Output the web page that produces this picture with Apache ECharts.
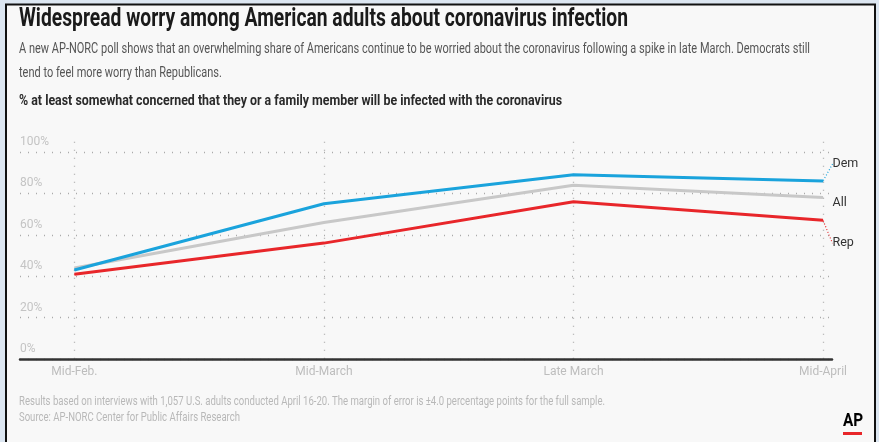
<!DOCTYPE html>
<html><head><meta charset="utf-8">
<script src="https://cdn.jsdelivr.net/npm/echarts@6/dist/echarts.min.js"></script>
<style>html,body{margin:0;padding:0;background:#dce6f1;}#c{width:879px;height:442px;}</style>
</head><body><div id="c"></div>
<script>
const categories = ['Mid-Feb.', 'Mid-March', 'Late March', 'Mid-April'];
const demValues = [43, 75, 89, 86];
const allValues = [44, 66, 84, 78];
const repValues = [41, 56, 76, 67];
const yTicks = [0, 20, 40, 60, 80, 100];
const seriesNames = ['Dem', 'All', 'Rep'];

const titleText = 'Widespread worry among American adults about coronavirus infection';
const subLine1 = 'A new AP-NORC poll shows that an overwhelming share of Americans continue to be worried about the coronavirus following a spike in late March. Democrats still';
const subLine2 = 'tend to feel more worry than Republicans.';
const headText = '% at least somewhat concerned that they or a family member will be infected with the coronavirus';
const noteLine1 = 'Results based on interviews with 1,057 U.S. adults conducted April 16-20. The margin of error is \u00b14.0 percentage points for the full sample.';
const noteLine2 = 'Source: AP-NORC Center for Public Affairs Research';

const FONT = 'Roboto, "Noto Sans", sans-serif';
const ctx = document.createElement('canvas').getContext('2d');
function fit(text, font, width) { ctx.font = font; return width / ctx.measureText(text).width; }

const fTitle = 'bold 25.5px ' + FONT;
const fSub = '14.2px ' + FONT;
const fHead = 'bold 14px ' + FONT;
const fNote = '12.5px ' + FONT;
const sTitle = fit(titleText, fTitle, 609);
const sSub = fit(subLine1, fSub, 791);
const sHead = fit(headText, fHead, 543);
const sNote = fit(noteLine1, fNote, 586);

function txt(text, font, color, x, y, sx) {
  return { type: 'text', x: x, y: y, scaleX: sx, z: 10, silent: true,
    style: { text: text, font: font, fill: color, verticalAlign: 'middle', textVerticalAlign: 'middle' } };
}

function mkData(vals, name) {
  return vals.map((v, i) => i === vals.length - 1
    ? { value: [i, v], label: { show: true, formatter: name } }
    : [i, v]);
}

const labelBase = { show: false, position: 'right', distance: 9, fontFamily: FONT, fontSize: 12.5, color: '#333' };

const chart = echarts.init(document.getElementById('c'), null, { renderer: 'canvas' });
chart.setOption({
  backgroundColor: '#dce6f1',
  animation: false,
  graphic: [
    { type: 'rect', z: -100, silent: true,
      shape: { x: 6, y: 4.5, width: 869, height: 445 },
      style: { fill: '#f8f8f8', stroke: '#111', lineWidth: 2 } },
    txt(titleText, fTitle, '#1a1a1a', 19, 19.5, sTitle),
    txt(subLine1, fSub, '#555', 19, 49.5, sSub),
    txt(subLine2, fSub, '#555', 19, 73.5, sSub),
    txt(headText, fHead, '#2a2a2a', 19, 101.5, sHead),
    txt(noteLine1, fNote, '#b8b8b8', 19, 401.5, sNote),
    txt(noteLine2, fNote, '#b8b8b8', 19, 417.5, sNote),
    { type: 'text', x: 843, y: 421, z: 10, scaleX: 0.85,
      style: { text: 'AP', font: 'bold 18px ' + FONT, fill: '#000', verticalAlign: 'middle', textVerticalAlign: 'middle' } },
    { type: 'rect', z: 10, shape: { x: 843, y: 432, width: 19, height: 3 }, style: { fill: '#e8262a' } }
  ],
  grid: { left: 20, right: 47, top: 141.7, bottom: 83, containLabel: false },
  xAxis: {
    type: 'value', min: -0.218, max: 3.036,
    axisLine: { show: true, lineStyle: { color: '#333', width: 2.5 } },
    axisTick: { show: false, customValues: [0, 1, 2, 3] },
    axisLabel: { customValues: [0, 1, 2, 3], margin: 7,
      formatter: v => categories[Math.round(v)],
      fontFamily: FONT, fontSize: 12, color: '#bdbdbd' },
    splitLine: { show: true, lineStyle: { color: '#aaa', width: 1.3, type: [1, 7] } }
  },
  yAxis: {
    type: 'value', min: 0, max: 105,
    axisLine: { show: false },
    axisTick: { show: false, customValues: yTicks },
    axisLabel: { customValues: yTicks, inside: true, margin: 0,
      verticalAlign: 'bottom', padding: [0, 0, 4, 0],
      formatter: v => v + '%',
      fontFamily: FONT, fontSize: 12, color: '#c4c4c4' },
    splitLine: { show: true, lineStyle: { color: '#aaa', width: 1.3, type: [1, 7] } }
  },
  series: [
    { name: seriesNames[1], type: 'line', data: mkData(allValues, seriesNames[1]),
      symbol: 'circle', symbolSize: 1, showSymbol: true, itemStyle: { color: '#c8c8c8' },
      lineStyle: { color: '#c8c8c8', width: 3 }, z: 3,
      label: labelBase, labelLayout: { dy: 5 } },
    { name: seriesNames[2], type: 'line', data: mkData(repValues, seriesNames[2]),
      symbol: 'circle', symbolSize: 1, showSymbol: true, itemStyle: { color: '#e8262a' },
      lineStyle: { color: '#e8262a', width: 3 }, z: 4,
      label: labelBase, labelLayout: { dy: 23 },
      labelLine: { show: true, lineStyle: { color: '#e8262a', width: 1.2, type: [1, 2] } } },
    { name: seriesNames[0], type: 'line', data: mkData(demValues, seriesNames[0]),
      symbol: 'circle', symbolSize: 1, showSymbol: true, itemStyle: { color: '#1aa3dc' },
      lineStyle: { color: '#1aa3dc', width: 3 }, z: 5,
      label: labelBase, labelLayout: { dy: -17 },
      labelLine: { show: true, lineStyle: { color: '#1aa3dc', width: 1.2, type: [1, 2] } } }
  ]
});
</script></body></html>
